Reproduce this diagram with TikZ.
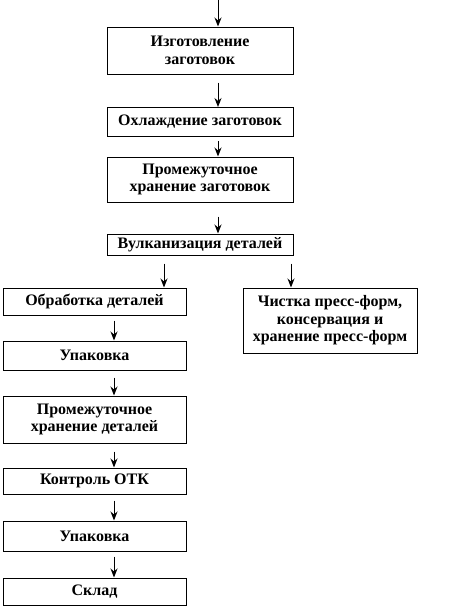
\documentclass[tikz,border=0pt]{standalone}
\usepackage{fontspec}
\setmainfont{Liberation Serif}
\usetikzlibrary{arrows.meta}
\begin{document}
\begin{tikzpicture}[x=1pt,y=-1pt,
  box/.style={draw,line width=1pt,minimum width=#1,inner sep=0pt,align=center,
    font=\fontsize{16}{17.5}\selectfont\bfseries},
  arr/.style={line width=1pt,-{Stealth[length=9pt,width=7pt]}}]
\useasboundingbox (0,0) rectangle (474,614);
\coordinate (top) at (218,0);
\node[box=186pt,minimum height=47pt] (b1) at (200,50.5) {Изготовление\\заготовок};
\node[box=186pt,minimum height=29pt] (b2) at (200,122) {Охлаждение заготовок};
\node[box=186pt,minimum height=45pt] (b3) at (200,179.5) {Промежуточное\\хранение заготовок};
\node[box=186pt,minimum height=21pt] (b4) at (200,244.5) {Вулканизация деталей};
\node[box=183pt,minimum height=27pt] (b5) at (94.5,301.5) {Обработка деталей};
\node[box=174pt,minimum height=65pt] (r) at (330,320.5) {Чистка пресс-форм,\\консервация и\\хранение пресс-форм};
\node[box=183pt,minimum height=29pt] (b6) at (94.5,355.5) {Упаковка};
\node[box=183pt,minimum height=47pt] (b7) at (94.5,419.5) {Промежуточное\\хранение деталей};
\node[box=183pt,minimum height=26pt] (b8) at (94.5,481) {Контроль ОТК};
\node[box=183pt,minimum height=30pt] (b9) at (94.5,536) {Упаковка};
\node[box=183pt,minimum height=27pt] (b10) at (94.5,591.5) {Склад};
\draw[arr] (top) -- (top |- b1.north);
\draw[arr] ([xshift=18pt,yshift=-8pt]b1.south) -- ([xshift=18pt]b2.north);
\draw[arr] ([xshift=18pt,yshift=-4pt]b2.south) -- ([xshift=18pt]b3.north);
\draw[arr] ([xshift=18pt,yshift=-14pt]b3.south) -- ([xshift=18pt]b4.north);
\draw[arr] ([xshift=-36pt,yshift=-8pt]b4.south) -- ([xshift=69.5pt]b5.north);
\draw[arr] ([xshift=91pt,yshift=-8pt]b4.south) -- ([xshift=-39pt]r.north);
\draw[arr] ([xshift=19.5pt,yshift=-5pt]b5.south) -- ([xshift=19.5pt]b6.north);
\draw[arr] ([xshift=19.5pt,yshift=-7pt]b6.south) -- ([xshift=19.5pt]b7.north);
\draw[arr] ([xshift=19.5pt,yshift=-8pt]b7.south) -- ([xshift=19.5pt]b8.north);
\draw[arr] ([xshift=19.5pt,yshift=-6pt]b8.south) -- ([xshift=19.5pt]b9.north);
\draw[arr] ([xshift=19.5pt,yshift=-5pt]b9.south) -- ([xshift=19.5pt]b10.north);
\end{tikzpicture}
\end{document}
